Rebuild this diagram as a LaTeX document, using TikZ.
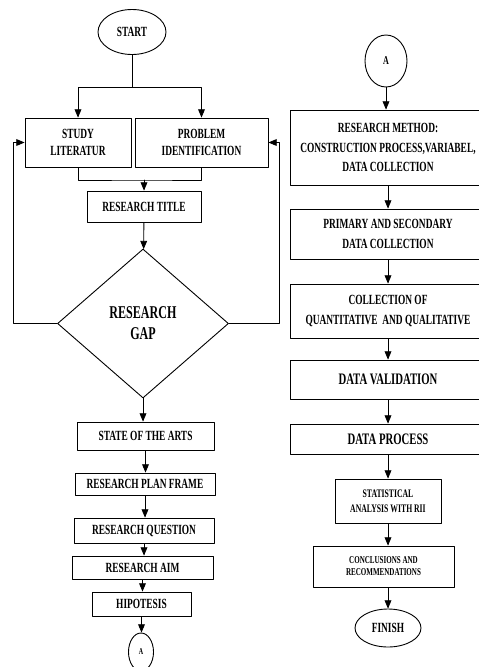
\documentclass[tikz,border=0pt]{standalone}
\usepackage{fontspec}
\setmainfont{Liberation Serif}[FakeStretch=0.67]
\usetikzlibrary{arrows,shapes.geometric}
\tikzset{
  box/.style={draw,inner sep=0pt,align=center,font=\bfseries\fontsize{14}{17}\selectfont},
  bigbox/.style={box,font=\bfseries\fontsize{14}{19.5}\selectfont},
  oval/.style={draw,ellipse,inner sep=0pt,font=\bfseries\fontsize{14}{15}\selectfont}
}

\begin{document}
\begin{tikzpicture}[line cap=round,line join=round,>=triangle 45,x=1pt,y=-1pt,line width=0.9pt]
	\clip (0,0) rectangle (479,667);
	%kolom kiri
	\node[oval,minimum width=68,minimum height=45] (start) at (132,32) {START};
	\node[box,minimum width=106,minimum height=49] (lit) at (78,142.5) {STUDY\\LITERATUR};
	\node[box,minimum width=133,minimum height=49] (prob) at (201.5,142.5) {PROBLEM\\IDENTIFICATION};
	\node[box,minimum width=114,minimum height=31] (title) at (144,206.5) {RESEARCH TITLE};
	\node[draw,diamond,inner sep=0pt,minimum width=171,minimum height=149,align=center,
		font=\bfseries\fontsize{18}{21}\selectfont] (gap) at (143,323.5) {RESEARCH\\GAP};
	\node[box,minimum width=137,minimum height=28] (arts) at (145.5,436) {STATE OF THE ARTS};
	\node[box,minimum width=140,minimum height=22] (plan) at (145,484) {RESEARCH PLAN FRAME};
	\node[box,minimum width=140,minimum height=25] (quest) at (144,530.5) {RESEARCH QUESTION};
	\node[box,minimum width=141,minimum height=23] (aim) at (142.5,567.5) {RESEARCH AIM};
	\node[box,minimum width=99,minimum height=24] (hipo) at (141.5,604) {HIPOTESIS};
	\node[oval,minimum width=25,minimum height=38,font=\bfseries\fontsize{9}{10}\selectfont] (conA) at (141,652) {A};
	%kolom kanan
	\node[oval,minimum width=42,minimum height=52,font=\bfseries\fontsize{12}{13}\selectfont] (conB) at (386,61) {A};
	\node[bigbox,minimum width=196,minimum height=75] (method) at (388,147.5) {RESEARCH METHOD:\\CONSTRUCTION PROCESS,VARIABEL,\\DATA COLLECTION};
	\node[bigbox,minimum width=196,minimum height=50] (primary) at (388,234) {PRIMARY AND SECONDARY\\DATA COLLECTION};
	\node[bigbox,minimum width=196,minimum height=54] (qq) at (388,311) {COLLECTION OF\\QUANTITATIVE\ \ AND QUALITATIVE};
	\node[box,minimum width=196,minimum height=39,font=\bfseries\fontsize{16}{17}\selectfont] (valid) at (388,379.5) {DATA VALIDATION};
	\node[box,minimum width=196,minimum height=30,font=\bfseries\fontsize{16}{17}\selectfont] (process) at (388,439) {DATA PROCESS};
	\node[box,minimum width=106,minimum height=44,font=\bfseries\fontsize{11.5}{15}\selectfont] (stat) at (388,501) {STATISTICAL\\ANALYSIS WITH RII};
	\node[box,minimum width=141,minimum height=41,font=\bfseries\fontsize{10.5}{12}\selectfont] (concl) at (383.5,566.5) {CONCLUSIONS AND\\RECOMMENDATIONS};
	\node[oval,minimum width=66,minimum height=38] (finish) at (388,628) {FINISH};
	%titik bantu
	\coordinate (split) at (132,87);
	\coordinate (merge) at (144,180);
	\coordinate (backL) at (13,323.5);
	\coordinate (backR) at (279,323.5);
	%panah kiri
	\draw (start) -- (split);
	\draw[->] (split) -| (lit);
	\draw[->] (split) -| (prob);
	\draw (lit) |- (merge) -| (prob);
	\draw[->] (merge) -- (title);
	\draw[->] (title) -- (gap);
	\draw[->] (gap.west) -- (backL) |- (lit.west);
	\draw[->] (gap.east) -- (backR) |- (prob.east);
	\draw[->] (gap.south) -- (gap.south |- arts.north);
	\draw[->] (arts) -- (arts.south |- plan.north);
	\draw[->] (plan) -- (plan.south |- quest.north);
	\draw[->] (quest) -- (quest.south |- aim.north);
	\draw[->] (aim) -- (aim.south |- hipo.north);
	\draw[->] (hipo) -- (hipo.south |- conA.north);
	%panah kanan
	\draw[->] (conB) -- (conB.south |- method.north);
	\draw[->] (method) -- (primary);
	\draw[->] (primary) -- (qq);
	\draw[->] (qq) -- (valid);
	\draw[->] (valid) -- (process);
	\draw[->] (process) -- (stat);
	\draw[->] (stat) -- (stat.south |- concl.north);
	\draw[->] (concl.south -| finish) -- (finish);
\end{tikzpicture}
\end{document}
